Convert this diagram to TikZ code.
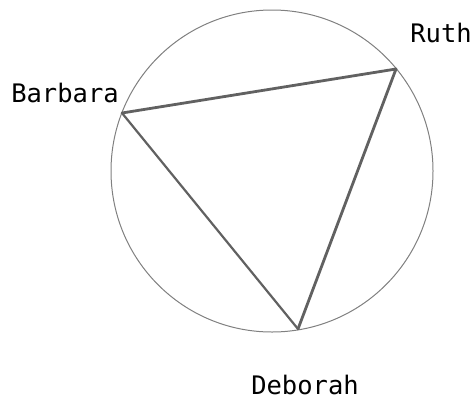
\documentclass[tikz,border=0pt]{standalone}
\usepackage{fontspec}
\setmonofont{DejaVu Sans Mono}
\begin{document}
\begin{tikzpicture}[x=1pt,y=-1pt,
  lbl/.style={font=\ttfamily\fontsize{25.5}{26}\selectfont, text=black, inner sep=0pt, anchor=base},
  ring/.style={draw=black!50, line width=1pt},
  edge/.style={draw=black!62, line width=2.8pt, line cap=round},
  edgethin/.style={draw=black!62, line width=2.2pt, line cap=round}]
\useasboundingbox (0,0) rectangle (476,400);
\coordinate (c) at (272,171);
\draw[ring] (c) circle (161);
\coordinate (R) at (396,69);
\coordinate (B) at (122,113);
\coordinate (D) at (298,329);
\draw[edge] (B) -- (R);
\draw[edge] (R) -- (D);
\draw[edgethin] (B) -- (D);
\node[lbl] (lR) at (441,42) {Ruth};
\node[lbl] (lB) at (65,102) {Barbara};
\node[lbl] (lD) at (305,394.5) {Deborah};
\end{tikzpicture}
\end{document}
